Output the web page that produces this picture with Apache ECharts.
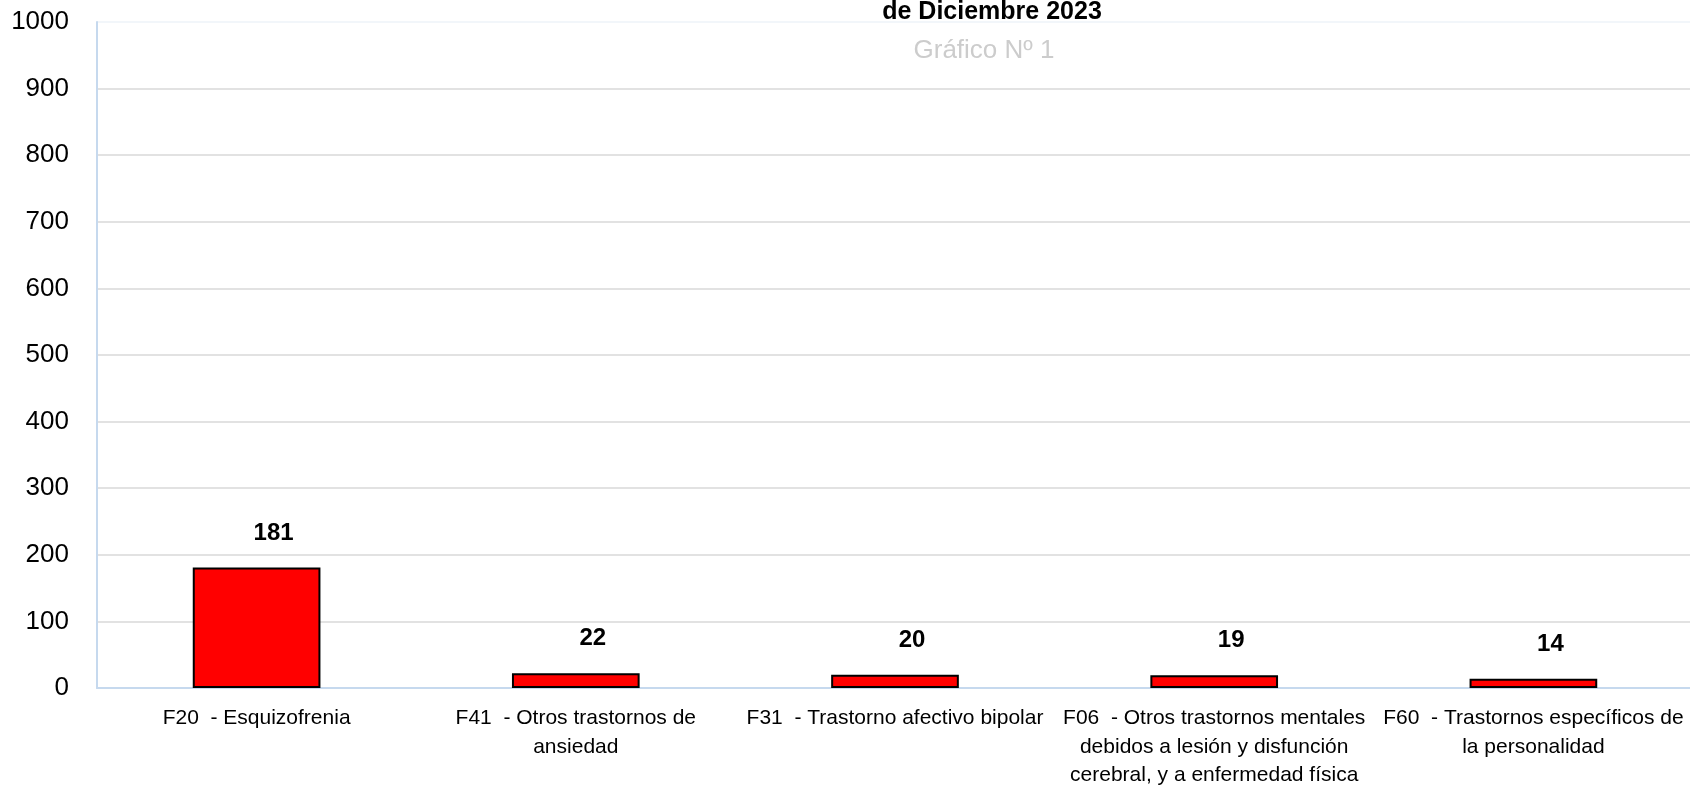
<!DOCTYPE html>
<html>
<head>
<meta charset="utf-8">
<script src="https://cdn.jsdelivr.net/npm/echarts@6/dist/echarts.min.js"></script>
<style>
html,body{margin:0;padding:0;background:#fff;}
#chart{width:1690px;height:786px;}
</style>
</head>
<body>
<div id="chart"></div>
<script>
const titleLine = 'de Diciembre 2023';
const subtitle = 'Gráfico Nº 1';
const categories = [
  'F20  - Esquizofrenia',
  'F41  - Otros trastornos de\nansiedad',
  'F31  - Trastorno afectivo bipolar',
  'F06  - Otros trastornos mentales\ndebidos a lesión y disfunción\ncerebral, y a enfermedad física',
  'F60  - Trastornos específicos de\nla personalidad'
];
const values = [181, 22, 20, 19, 14];
const yMin = 0, yMax = 1000, yStep = 100;

const FONT = '"Liberation Sans", Arial, sans-serif';
const gridColors = [];
for (let v = yMin; v <= yMax; v += yStep) gridColors.push(v === yMax ? '#eef3f9' : '#d9d9d9');

const chart = echarts.init(document.getElementById('chart'));
chart.setOption({
  backgroundColor: '#ffffff',
  animation: false,
  grid: { left: 97, right: -3, top: 22, bottom: 98, containLabel: false, outerBoundsMode: 'none' },
  graphic: [
    { type: 'text', x: 992, y: 12, style: { text: titleLine, fill: '#000', font: 'bold 25px ' + FONT, textAlign: 'center', textVerticalAlign: 'middle' } },
    { type: 'text', x: 984, y: 51, style: { text: subtitle, fill: '#cccccc', font: '26px ' + FONT, textAlign: 'center', textVerticalAlign: 'middle' } }
  ],
  xAxis: {
    type: 'category',
    data: categories,
    axisLine: { show: true, lineStyle: { color: '#c6d9ee', width: 2 } },
    axisTick: { show: false },
    axisLabel: { interval: 0, color: '#000', fontFamily: FONT, fontSize: 21, lineHeight: 28.5, margin: 16, align: 'center' },
    splitLine: { show: false }
  },
  yAxis: {
    type: 'value',
    min: yMin, max: yMax, interval: yStep,
    axisLine: { show: true, lineStyle: { color: '#c6d9ee', width: 2 } },
    axisTick: { show: false },
    axisLabel: { color: '#000', fontFamily: FONT, fontSize: 26, margin: 28, formatter: v => String(v) },
    splitLine: { show: true, lineStyle: { color: gridColors, width: 1.5 } }
  },
  series: [{
    type: 'bar',
    data: values,
    barWidth: '40%',
    itemStyle: { color: '#ff0000', borderColor: '#000000', borderWidth: 2 },
    label: { show: true, position: 'top', distance: 22.5, offset: [17, 0], color: '#000', fontFamily: FONT, fontWeight: 'bold', fontSize: 24 }
  }]
});
</script>
</body>
</html>
